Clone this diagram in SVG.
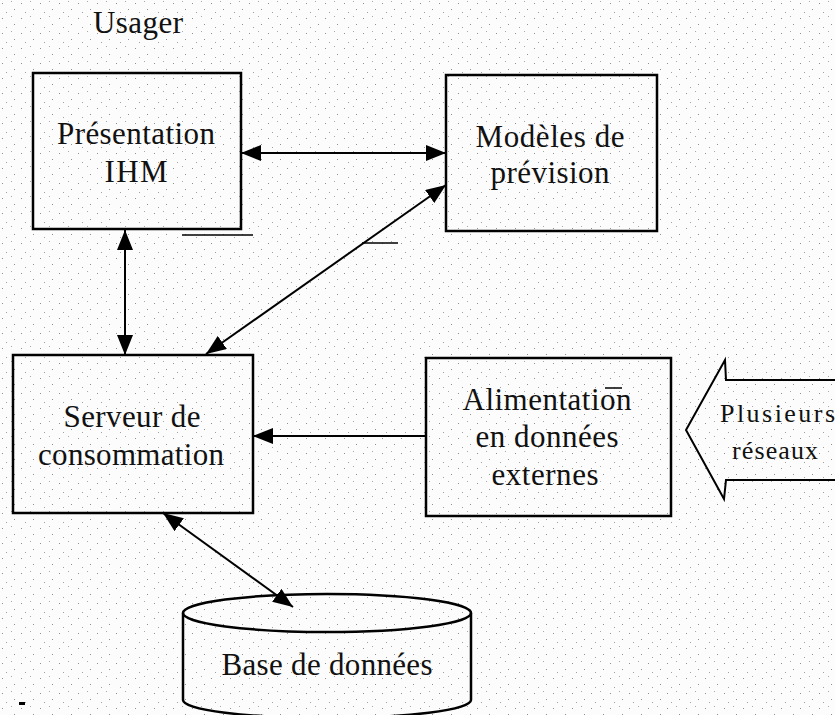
<svg xmlns="http://www.w3.org/2000/svg" width="835" height="715" viewBox="0 0 835 715">
  <style>
    .box { fill: none; stroke: #000; stroke-width: 2.5; }
    .conn { fill: none; stroke: #000; stroke-width: 2; }
    .lbl { font-size: 31px; fill: #111; text-anchor: middle; }
    .lbl2 { font-size: 26px; fill: #111; }
    .mark { stroke: #000; stroke-width: 1.5; }
  </style>
  <defs>
    <pattern id="speckle" width="19" height="15" patternUnits="userSpaceOnUse">
      <rect width="19" height="15" fill="#fcfcfc"/>
      <rect x="2" y="3" width="1" height="1" fill="#909090"/>
      <rect x="11" y="1" width="1" height="1" fill="#a8a8a8"/>
      <rect x="14" y="9" width="1" height="1" fill="#909090"/>
      <rect x="6" y="12" width="1" height="1" fill="#a0a0a0"/>
    </pattern>
    <marker id="ah" markerUnits="userSpaceOnUse" markerWidth="20" markerHeight="16" viewBox="0 0 20 16" refX="20" refY="8" orient="auto-start-reverse">
      <path d="M0,0 L20,8 L0,16 z" fill="#000"/>
    </marker>
  </defs>

  <rect x="0" y="0" width="835" height="715" fill="url(#speckle)"/>

  <g font-family="Liberation Serif, DejaVu Serif, serif">
  <text class="lbl" x="138" y="33" textLength="90">Usager</text>

  <g id="presentation">
    <rect class="box" x="33" y="73" width="208" height="156"/>
    <text class="lbl" x="136" y="144" textLength="158">Présentation</text>
    <text class="lbl" x="136" y="182" textLength="63">IHM</text>
  </g>

  <g id="modeles">
    <rect class="box" x="446" y="75" width="211" height="156"/>
    <text class="lbl" x="550" y="147" textLength="149">Modèles de</text>
    <text class="lbl" x="550" y="183" textLength="119">prévision</text>
  </g>

  <g id="serveur">
    <rect class="box" x="13" y="355" width="240" height="158"/>
    <text class="lbl" x="132" y="427" textLength="137">Serveur de</text>
    <text class="lbl" x="131" y="465" textLength="186">consommation</text>
  </g>

  <g id="alimentation">
    <rect class="box" x="426" y="358" width="245" height="158"/>
    <text class="lbl" x="547" y="410" textLength="169">Alimentation</text>
    <text class="lbl" x="547" y="447" textLength="143">en données</text>
    <text class="lbl" x="545" y="485" textLength="107">externes</text>
    <line class="mark" x1="605" y1="388" x2="622" y2="388"/>
  </g>

  <g id="reseaux">
    <polyline fill="none" stroke="#000" stroke-width="2" points="835,380 726,380 725,360 686,430 724,499 726,480 835,480"/>
    <text class="lbl2" x="720" y="422" textLength="115">Plusieurs</text>
    <text class="lbl2" x="732" y="459" textLength="86">réseaux</text>
  </g>

  <g id="base">
    <path class="box" d="M183,613 L183,700 A144,18 0 0 0 471,700 L471,613"/>
    <ellipse class="box" cx="327" cy="613" rx="144" ry="19"/>
    <text class="lbl" x="327" y="675" textLength="211">Base de données</text>
  </g>
  </g>

  <g id="connectors">
    <line class="conn" x1="241" y1="153" x2="446" y2="153" marker-start="url(#ah)" marker-end="url(#ah)"/>
    <line class="conn" x1="125" y1="230" x2="125" y2="355" marker-start="url(#ah)" marker-end="url(#ah)"/>
    <line class="conn" x1="446" y1="185" x2="206" y2="354" marker-start="url(#ah)" marker-end="url(#ah)"/>
    <line class="conn" x1="426" y1="436" x2="253" y2="436" marker-end="url(#ah)"/>
    <line class="conn" x1="163" y1="513" x2="293" y2="607" marker-start="url(#ah)" marker-end="url(#ah)"/>
  </g>

  <g id="marks">
    <line class="mark" x1="182" y1="235" x2="253" y2="235"/>
    <line class="mark" x1="362" y1="243" x2="398" y2="243"/>
    <rect x="19" y="702" width="6" height="3" fill="#000"/>
  </g>
</svg>
